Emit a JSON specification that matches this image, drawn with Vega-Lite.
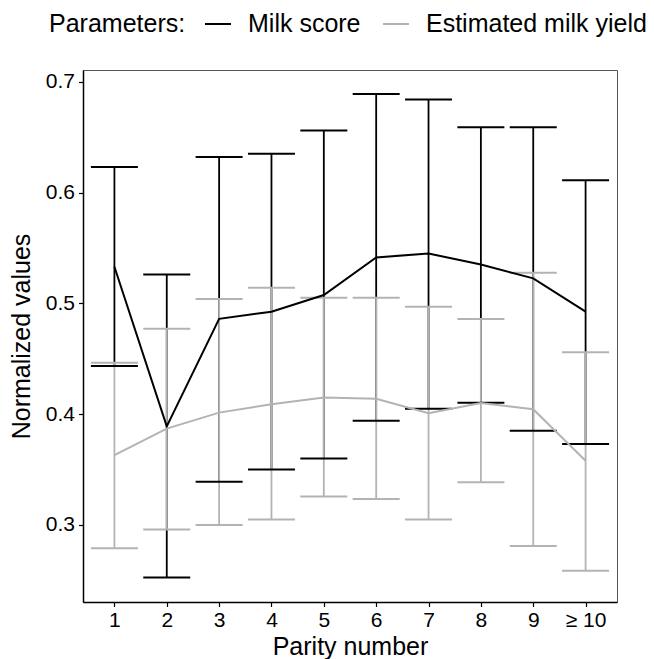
{
  "$schema": "https://vega.github.io/schema/vega-lite/v6.json",
  "width": 534,
  "height": 532,
  "autosize": {"type": "none"},
  "padding": {"left": 83, "top": 70, "right": 37, "bottom": 57},
  "background": "white",
  "config": {
    "font": "Liberation Sans",
    "view": {"stroke": "#555555", "strokeWidth": 1},
    "axis": {
      "labelFont": "Liberation Sans",
      "titleFont": "Liberation Sans",
      "labelColor": "black",
      "titleColor": "black",
      "labelFontSize": 21,
      "titleFontSize": 25,
      "titleFontWeight": "normal",
      "domainColor": "black",
      "domainWidth": 1.5,
      "tickColor": "black",
      "tickWidth": 1.2,
      "tickSize": 4.5,
      "grid": false
    },
    "legend": {
      "labelFont": "Liberation Sans",
      "titleFont": "Liberation Sans"
    }
  },
  "data": {
    "values": [
      {"parity": "1", "series": "Milk score", "mean": 0.533, "lo": 0.4435, "hi": 0.623},
      {"parity": "2", "series": "Milk score", "mean": 0.389, "lo": 0.2525, "hi": 0.526},
      {"parity": "3", "series": "Milk score", "mean": 0.486, "lo": 0.339, "hi": 0.632},
      {"parity": "4", "series": "Milk score", "mean": 0.4925, "lo": 0.350, "hi": 0.635},
      {"parity": "5", "series": "Milk score", "mean": 0.5075, "lo": 0.360, "hi": 0.656},
      {"parity": "6", "series": "Milk score", "mean": 0.5415, "lo": 0.394, "hi": 0.689},
      {"parity": "7", "series": "Milk score", "mean": 0.545, "lo": 0.405, "hi": 0.684},
      {"parity": "8", "series": "Milk score", "mean": 0.535, "lo": 0.4104, "hi": 0.659},
      {"parity": "9", "series": "Milk score", "mean": 0.5226, "lo": 0.385, "hi": 0.659},
      {"parity": "≥ 10", "series": "Milk score", "mean": 0.4925, "lo": 0.373, "hi": 0.611},
      {"parity": "1", "series": "Estimated milk yield", "mean": 0.363, "lo": 0.279, "hi": 0.4465},
      {"parity": "2", "series": "Estimated milk yield", "mean": 0.387, "lo": 0.296, "hi": 0.477},
      {"parity": "3", "series": "Estimated milk yield", "mean": 0.4014, "lo": 0.300, "hi": 0.504},
      {"parity": "4", "series": "Estimated milk yield", "mean": 0.409, "lo": 0.305, "hi": 0.514},
      {"parity": "5", "series": "Estimated milk yield", "mean": 0.415, "lo": 0.3256, "hi": 0.505},
      {"parity": "6", "series": "Estimated milk yield", "mean": 0.414, "lo": 0.3235, "hi": 0.505},
      {"parity": "7", "series": "Estimated milk yield", "mean": 0.4008, "lo": 0.305, "hi": 0.497},
      {"parity": "8", "series": "Estimated milk yield", "mean": 0.41, "lo": 0.3385, "hi": 0.486},
      {"parity": "9", "series": "Estimated milk yield", "mean": 0.4044, "lo": 0.281, "hi": 0.5277},
      {"parity": "≥ 10", "series": "Estimated milk yield", "mean": 0.358, "lo": 0.2587, "hi": 0.4558}
    ]
  },
  "encoding": {
    "x": {
      "field": "parity",
      "type": "ordinal",
      "sort": ["1", "2", "3", "4", "5", "6", "7", "8", "9", "≥ 10"],
      "scale": {"type": "point", "padding": 0.6},
      "axis": {"title": "Parity number", "labelAngle": 0, "labelPadding": 3, "titlePadding": 4}
    },
    "color": {
      "field": "series",
      "type": "nominal",
      "scale": {"domain": ["Milk score", "Estimated milk yield"], "range": ["#000000", "#b3b3b3"]},
      "legend": {
        "title": "Parameters:",
        "orient": "none",
        "legendX": -34,
        "legendY": -60,
        "direction": "horizontal",
        "titleOrient": "left",
        "titleFontSize": 25,
        "titleFontWeight": "normal",
        "titleColor": "black",
        "titlePadding": 18,
        "titleBaseline": "middle",
        "titleLimit": 400,
        "labelFontSize": 25,
        "labelColor": "black",
        "labelLimit": 400,
        "labelOffset": 16,
        "columnPadding": 18,
        "symbolType": "stroke",
        "symbolSize": 676,
        "symbolStrokeWidth": 2
      }
    }
  },
  "layer": [
    {
      "mark": {"type": "rule", "strokeWidth": 1.8},
      "encoding": {
        "y": {
          "field": "lo",
          "type": "quantitative",
          "scale": {"domain": [0.2305, 0.7106], "nice": false, "zero": false},
          "axis": {"title": "Normalized values", "values": [0.3, 0.4, 0.5, 0.6, 0.7], "format": ".1f", "labelPadding": 4, "titlePadding": 11}
        },
        "y2": {"field": "hi"}
      }
    },
    {
      "mark": {"type": "tick", "size": 47, "thickness": 2, "opacity": 1},
      "encoding": {"y": {"field": "lo", "type": "quantitative"}}
    },
    {
      "mark": {"type": "tick", "size": 47, "thickness": 2, "opacity": 1},
      "encoding": {"y": {"field": "hi", "type": "quantitative"}}
    },
    {
      "mark": {"type": "line", "strokeWidth": 2},
      "encoding": {
        "y": {"field": "mean", "type": "quantitative"}
      }
    }
  ]
}
